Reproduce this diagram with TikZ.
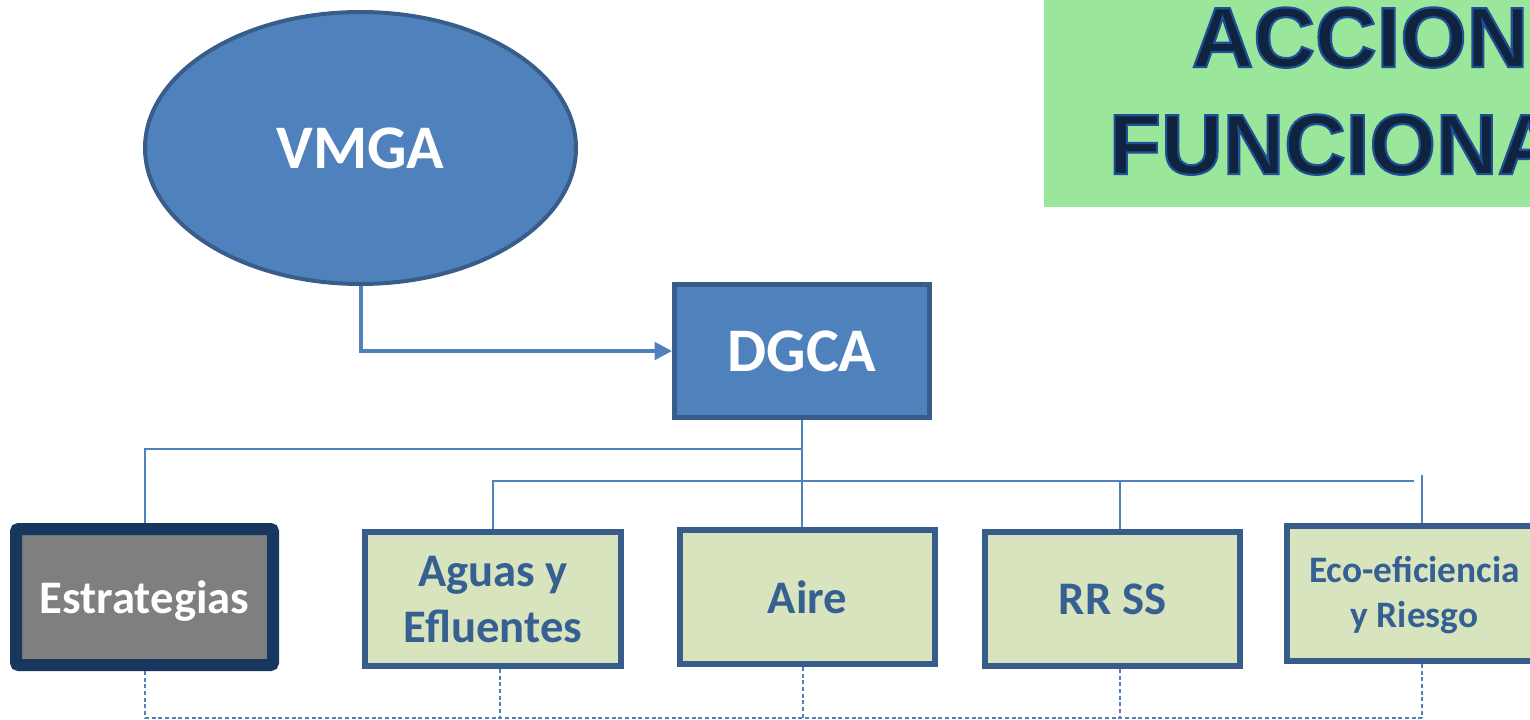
\documentclass[tikz,border=0pt]{standalone}
\usepackage{fontspec}
\setmainfont{Carlito}
\newfontfamily\titlefont{Liberation Sans}
\usetikzlibrary{shapes.geometric,arrows.meta}
\definecolor{mainblue}{HTML}{4F81BD}
\definecolor{edgeblue}{HTML}{385D8A}
\definecolor{navy}{HTML}{17375E}
\definecolor{boxgreen}{HTML}{D7E4BD}
\definecolor{textblue}{HTML}{376092}
\definecolor{greybox}{HTML}{7F7F7F}
\definecolor{titlegreen}{HTML}{9AE69A}
\definecolor{titlefill}{HTML}{10243F}
\newcommand{\outlined}[1]{\special{pdf:literal 2 Tr 1.6 w 0.12 0.31 0.59 RG}#1\special{pdf:literal 0 Tr}}
\newcommand{\placedtext}[2]{\smash{\raisebox{#1}{#2}}}
\begin{document}
\begin{tikzpicture}[x=0.75pt,y=-0.75pt,
  bigfont/.style={font=\bfseries\fontsize{46.5}{52}\selectfont},
  midfont/.style={font=\bfseries\fontsize{35}{42}\selectfont},
  topshape/.style={fill=mainblue,draw=edgeblue,text=white,bigfont,inner sep=0pt},
  unitbox/.style={rectangle,fill=boxgreen,draw=edgeblue,line width=4.5pt,text=textblue,
    midfont,align=center,inner sep=0pt,minimum width=191.5pt,minimum height=100.5pt},
  treeline/.style={mainblue,line width=1.5pt},
  dashline/.style={mainblue,line width=1.1pt,dash pattern=on 3pt off 2pt},
  titletext/.style={font=\titlefont\bfseries\fontsize{64}{80}\selectfont,text=titlefill,anchor=base,inner sep=0pt}]
\useasboundingbox (0,0) rectangle (1530,720);
\clip (0,0) rectangle (1530,720);
\fill[white] (0,0) rectangle (1530,720);

% title panel
\fill[titlegreen] (1044,0) rectangle (1540,207);
\node[titletext] (title1) at (1417,67) {\outlined{ACCIONES}};
\node[titletext] (title2) at (1417,174) {\outlined{FUNCIONALES}};

% top nodes
\node[topshape,ellipse,line width=3pt,minimum width=323.25pt,minimum height=204pt] (vmga) at (360.5,148) {VMGA};
\node[topshape,rectangle,line width=3.75pt,minimum width=191.25pt,minimum height=99.75pt] (dgca) at (802,351) {DGCA};

% units
\node[rectangle,fill=greybox,draw=navy,line width=9pt,rounded corners=2pt,text=white,midfont,
  inner sep=0pt,minimum width=192.75pt,minimum height=102pt] (estr) at (144.5,597)
  {\placedtext{-12pt}{Estrategias}};
\node[unitbox] (aguas) at (493,599)
  {\placedtext{9.75pt}{\begin{tabular}[t]{@{}c@{}}Aguas y\\Efluentes\end{tabular}}};
\node[unitbox] (aire) at (807.5,597) {\placedtext{-12pt}{Aire}};
\node[unitbox] (rrss) at (1112.5,599) {\placedtext{-11.25pt}{RR SS}};
\node[unitbox,font=\bfseries\fontsize{28}{33.5}\selectfont,minimum height=101pt] (eco) at (1414.5,593.5)
  {\placedtext{7.9pt}{\begin{tabular}[t]{@{}c@{}}Eco-eficiencia\\y Riesgo\end{tabular}}};

% arrow VMGA -> DGCA
\draw[mainblue,line width=3pt,-{Triangle[length=13pt,width=13pt]}] (vmga.south) |- (dgca.west);

% solid tree
\coordinate (h1) at (0,449);
\coordinate (h2end) at (1414,481);
\coordinate (rrj) at (1120,481);
\coordinate (ecoj) at (1422,475);
\draw[treeline] (dgca.south) -- (dgca.south |- aire.north);
\draw[treeline] (estr.north) |- (dgca.south |- h1);
\draw[treeline] (aguas.north) |- (h2end);
\draw[treeline] (rrj) -- (rrj |- rrss.north);
\draw[treeline] (ecoj) -- (ecoj |- eco.north);

% dashed bottom links
\coordinate (b1) at (145,718);
\coordinate (b2) at (500,718);
\coordinate (b3) at (803,718);
\coordinate (b4) at (1120,718);
\coordinate (b5) at (1422,718);
\draw[dashline] (b1 |- estr.south) -- (b1);
\draw[dashline] (b2 |- aguas.south) -- (b2);
\draw[dashline] (b3 |- aire.south) -- (b3);
\draw[dashline] (b4 |- rrss.south) -- (b4);
\draw[dashline] (b5 |- eco.south) -- (b5);
\draw[dashline] (b1) -- (b5);
\end{tikzpicture}
\end{document}
